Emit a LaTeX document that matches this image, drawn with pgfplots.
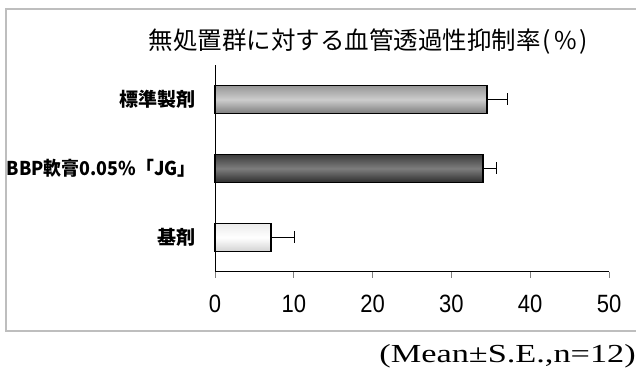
\documentclass[border=0pt]{standalone}
\usepackage{fontspec}
\usepackage{pgfplots}
\pgfplotsset{compat=1.18}
\usepackage{graphicx}
\newfontfamily\cjk{Noto Sans CJK JP}
\newfontfamily\ticfont{Liberation Sans}
\newfontfamily\serfont{Liberation Serif}
\definecolor{framegray}{RGB}{190,190,190}
\definecolor{aTop}{RGB}{150,150,150}
\definecolor{aMid}{RGB}{205,205,205}
\definecolor{aBot}{RGB}{125,125,125}
\definecolor{bTop}{RGB}{60,60,60}
\definecolor{bMid}{RGB}{125,125,125}
\definecolor{bBot}{RGB}{45,45,45}
\definecolor{cTop}{RGB}{235,235,235}
\definecolor{cMid}{RGB}{255,255,255}
\definecolor{cBot}{RGB}{210,210,210}
\begin{document}
\begin{tikzpicture}[x=1pt,y=1pt]
\useasboundingbox (0,0) rectangle (636,374);
\draw[framegray, line width=1.5pt] (700,365) -- (6,365) -- (6,43) -- (700,43);
\node[font=\cjk\fontsize{24.5}{24.5}\selectfont, anchor=center, inner sep=0pt] at (368.5,332) {無処置群に対する血管透過性抑制率\kern2pt(\kern3pt\%\kern3pt)};
\begin{axis}[at={(215pt,102pt)}, anchor=origin, scale only axis, width=394pt, height=207pt,
 xmin=0, xmax=50, ymin=0, ymax=3,
 axis x line=bottom, axis y line=left, axis line style={-, black, line width=1pt},
 xtick={0,10,...,50}, ytick={0.5,1.5,2.5},
 yticklabels={基剤, \scalebox{0.94}[1]{BBP軟膏0.05\%「JG」}, 標準製剤},
 tick align=outside, major tick length=6pt, xtick style={gray, line width=0.8pt}, ytick style={draw=none},
 /pgf/number format/assume math mode=true,
 xticklabel style={font=\ticfont\fontsize{25}{25}\selectfont, xscale=0.88, anchor=center, yshift=-26pt},
 yticklabel style={font=\cjk\bfseries\fontsize{19}{19}\selectfont, anchor=east, xshift=-10pt},
 xbar, bar width=28pt, bar shift=0pt, clip=false]
\addplot[draw=black, line width=1.5pt, top color=aTop, bottom color=aBot, middle color=aMid,
  error bars/.cd, x dir=plus, x explicit, error mark=|, error bar style={black, line width=1.5pt}, error mark options={mark size=6pt, line width=1.5pt, black}]
  coordinates {(34.5,2.5) +- (2.6,0)};
\addplot[draw=black, line width=1.5pt, top color=bTop, bottom color=bBot, middle color=bMid,
  error bars/.cd, x dir=plus, x explicit, error mark=|, error bar style={black, line width=1.5pt}, error mark options={mark size=6pt, line width=1.5pt, black}]
  coordinates {(34.0,1.5) +- (1.7,0)};
\addplot[draw=black, line width=1.5pt, top color=cTop, bottom color=cBot, middle color=cMid,
  error bars/.cd, x dir=plus, x explicit, error mark=|, error bar style={black, line width=1.5pt}, error mark options={mark size=6pt, line width=1.5pt, black}]
  coordinates {(7.1,0.5) +- (3.0,0)};
\end{axis}
\node[font=\serfont\fontsize{26}{26}\selectfont, anchor=east, inner sep=0pt] at (636,18) {\scalebox{1.32}[1]{(Mean±S.E.,n=12)}};
\end{tikzpicture}
\end{document}
